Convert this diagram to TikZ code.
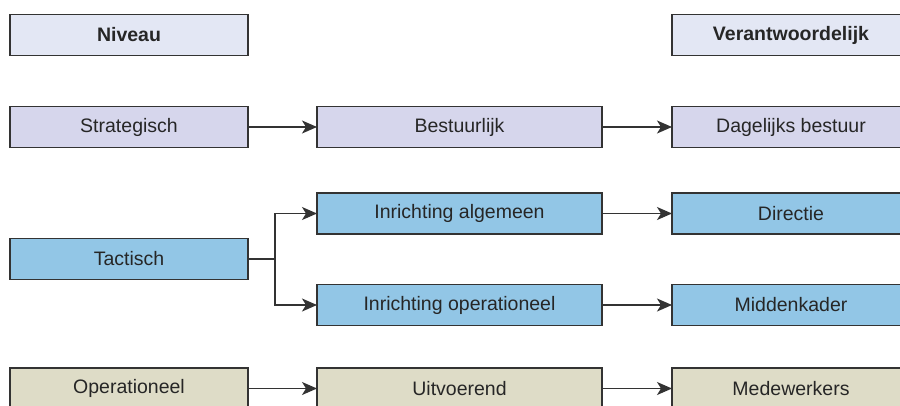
\documentclass[tikz,border=0pt]{standalone}
\usepackage{fontspec}
\setmainfont{Liberation Sans}
\usetikzlibrary{arrows.meta}

\definecolor{kopkleur}{HTML}{E3E7F4}
\definecolor{strategkleur}{HTML}{D6D6EC}
\definecolor{tactkleur}{HTML}{92C6E6}
\definecolor{operkleur}{HTML}{DEDCC7}
\definecolor{lijnkleur}{HTML}{333333}

\tikzset{
  vak/.style={draw=lijnkleur, line width=1.4pt, inner sep=0pt, outer sep=0pt,
    minimum height=41pt, text=black!85,
    font=\fontsize{19.5}{22}\selectfont},
  smal/.style={vak, minimum width=238pt},
  breed/.style={vak, minimum width=285pt},
  lijn/.style={draw=lijnkleur, line width=1.3pt},
  pijl/.style={lijn, -{Stealth[length=15pt,width=13pt,inset=4pt]}}
}

\begin{document}
\begin{tikzpicture}[x=1pt,y=-1pt]

\clip (0,0) rectangle (900,405);
\fill[white] (0,0) rectangle (900,405);

% Kopjes
\node[smal, fill=kopkleur, font=\fontsize{19.5}{22}\selectfont\bfseries] (niveau) at (129,35) {Niveau};
\node[smal, fill=kopkleur, font=\fontsize{19.5}{22}\selectfont\bfseries] (verantw) at (791,35) {Verantwoordelijk};

% Strategisch
\node[smal, fill=strategkleur] (strat) at (129,127) {Strategisch};
\node[breed, fill=strategkleur] (bestuur) at (459.5,127) {Bestuurlijk};
\node[smal, fill=strategkleur] (dagbest) at (791,127) {Dagelijks bestuur};

% Tactisch
\node[smal, fill=tactkleur] (tact) at (129,259) {Tactisch};
\node[breed, fill=tactkleur] (inralg) at (459.5,213.5) {Inrichting algemeen};
\node[breed, fill=tactkleur] (inrop) at (459.5,305) {Inrichting operationeel};
\node[smal, fill=tactkleur] (directie) at (791,213.5) {Directie};
\node[smal, fill=tactkleur] (midkader) at (791,305) {Middenkader};

% Operationeel
\node[smal, fill=operkleur] (oper) at (129,388.5) {Operationeel};
\node[breed, fill=operkleur] (uitv) at (459.5,388.5) {Uitvoerend};
\node[smal, fill=operkleur] (medew) at (791,388.5) {Medewerkers};

% Pijlen
\draw[pijl] (strat) -- (bestuur);
\draw[pijl] (bestuur) -- (dagbest);

\coordinate (splits) at (275,259);
\draw[lijn] (tact) -- (splits);
\draw[pijl] (splits) |- (inralg.west);
\draw[pijl] (splits) |- (inrop.west);
\draw[pijl] (inralg) -- (directie);
\draw[pijl] (inrop) -- (midkader);

\draw[pijl] (oper) -- (uitv);
\draw[pijl] (uitv) -- (medew);

\end{tikzpicture}
\end{document}
